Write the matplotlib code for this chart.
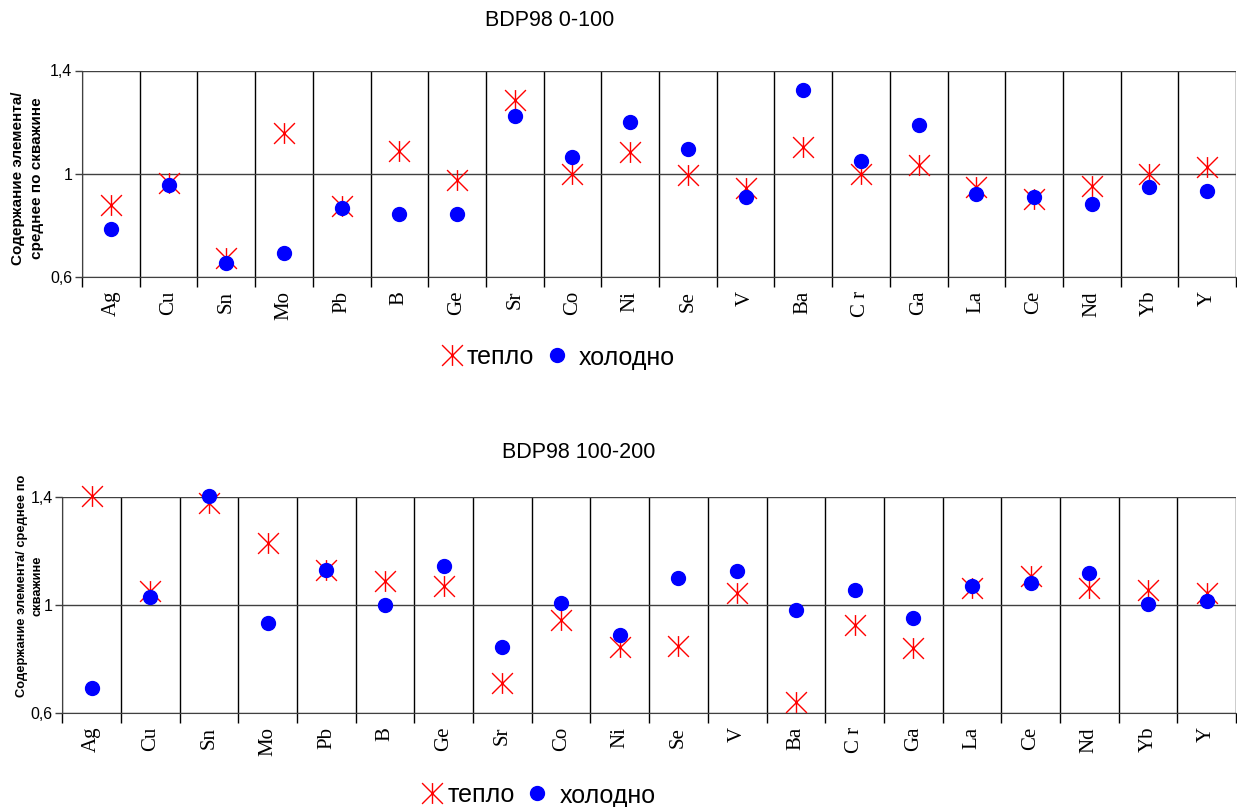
import numpy as np
import matplotlib.pyplot as plt
from matplotlib.path import Path
from matplotlib.lines import Line2D

plt.rcParams['font.family'] = ['Liberation Sans', 'DejaVu Sans']

# Elements along the x axis
elements = ['Ag', 'Cu', 'Sn', 'Mo', 'Pb', 'B', 'Ge', 'Sr', 'Co', 'Ni',
            'Se', 'V', 'Ba', 'C r', 'Ga', 'La', 'Ce', 'Nd', 'Yb', 'Y']

# BDP98 0-100
top_warm = [0.877, 0.964, 0.674, 1.159, 0.876, 1.088, 0.974, 1.286, 1.000, 1.084,
            0.995, 0.943, 1.105, 0.999, 1.034, 0.948, 0.903, 0.954, 1.000, 1.025]
top_cold = [0.786, 0.955, 0.653, 0.693, 0.867, 0.846, 0.846, 1.223, 1.065, 1.201,
            1.097, 0.911, 1.326, 1.048, 1.190, 0.923, 0.911, 0.884, 0.950, 0.933]

# BDP98 100-200
bot_warm = [1.402, 1.053, 1.378, 1.230, 1.128, 1.088, 1.069, 0.710, 0.946, 0.844,
            0.849, 1.044, 0.641, 0.925, 0.842, 1.064, 1.106, 1.064, 1.054, 1.044]
bot_cold = [0.691, 1.031, 1.405, 0.932, 1.128, 0.999, 1.144, 0.843, 1.009, 0.890,
            1.099, 1.125, 0.983, 1.057, 0.951, 1.072, 1.083, 1.119, 1.004, 1.014]

yticks = [0.6, 1.0, 1.4]
ytick_labels = ['0,6', '1', '1,4']

# Excel-like star: an X with a vertical bar
star = Path([(-1, -1), (1, 1), (-1, 1), (1, -1), (0, -1), (0, 1)],
            [Path.MOVETO, Path.LINETO, Path.MOVETO, Path.LINETO, Path.MOVETO, Path.LINETO])
star_kw = dict(ls='none', marker=star, ms=15, mec='red', mfc='none', mew=1.0)
dot_kw = dict(ls='none', marker='o', ms=10, color='blue', mec='blue')

W, H = 1237, 807
fig = plt.figure(figsize=(W / 100, H / 100), dpi=100)


def px(x, y):
    return x / W, 1 - y / H


def panel(rect, warm, cold, ylabel, yl_size, yl_pos, title, title_xy, leg):
    ax = fig.add_axes(rect)
    x = np.arange(len(elements))
    ax.plot(x, warm, zorder=3, clip_on=False, **star_kw)
    ax.plot(x, cold, zorder=4, clip_on=False, **dot_kw)

    ax.set_xlim(-0.5, len(elements) - 0.5)
    ax.set_ylim(0.6, 1.4)
    ax.set_yticks(yticks)
    ax.set_yticklabels(ytick_labels, fontsize=11.5)
    ax.set_xticks(x)
    ax.set_xticklabels(elements, rotation=90, family='Liberation Serif', fontsize=15)
    ax.set_xticks(np.arange(-0.5, len(elements)), minor=True)
    ax.tick_params(axis='x', which='major', length=0, pad=10)
    ax.tick_params(axis='x', which='minor', length=7, width=1, color='black')
    ax.tick_params(axis='y', length=5, width=1, color='#404040', pad=2)
    ax.grid(axis='x', which='minor', color='black', lw=1)
    ax.grid(axis='y', which='major', color='#404040', lw=1)
    ax.set_axisbelow(True)
    for s in ['top', 'right']:
        ax.spines[s].set_visible(False)
    ax.spines['left'].set_color('#404040')
    ax.spines['bottom'].set_color('#404040')
    ax.set_ylabel(ylabel, fontsize=yl_size, fontweight='bold', linespacing=1.45)
    ax.yaxis.set_label_coords(*yl_pos)

    fig.text(*px(*title_xy), title, ha='center', va='center', fontsize=15.5)

    # legend, placed like Excel's
    sx, dx, ty, tx1, tx2 = leg
    fig.add_artist(Line2D([sx / W], [1 - ty / H], **star_kw))
    fig.add_artist(Line2D([dx / W], [1 - ty / H], **dot_kw))
    fig.text(*px(tx1, ty), 'тепло', ha='left', va='center_baseline', fontsize=18)
    fig.text(*px(tx2, ty), 'холодно', ha='left', va='center_baseline', fontsize=18)
    return ax


panel([82 / W, 1 - 277 / H, 1154 / W, 206.5 / H], top_warm, top_cold,
      'Содержание элемента/\nсреднее по скважине', 11, (-0.033, 0.48),
      'BDP98 0-100', (550, 20), (452, 557, 355, 467, 579))
panel([62.4 / W, 1 - 713 / H, 1173.5 / W, 216 / H], bot_warm, bot_cold,
      'Содержание элемента/ среднее по\nскважине', 9.3, (-0.016, 0.59),
      'BDP98 100-200', (579, 453), (432, 537, 793, 448, 560))

fig.savefig('out.png', dpi=100)
